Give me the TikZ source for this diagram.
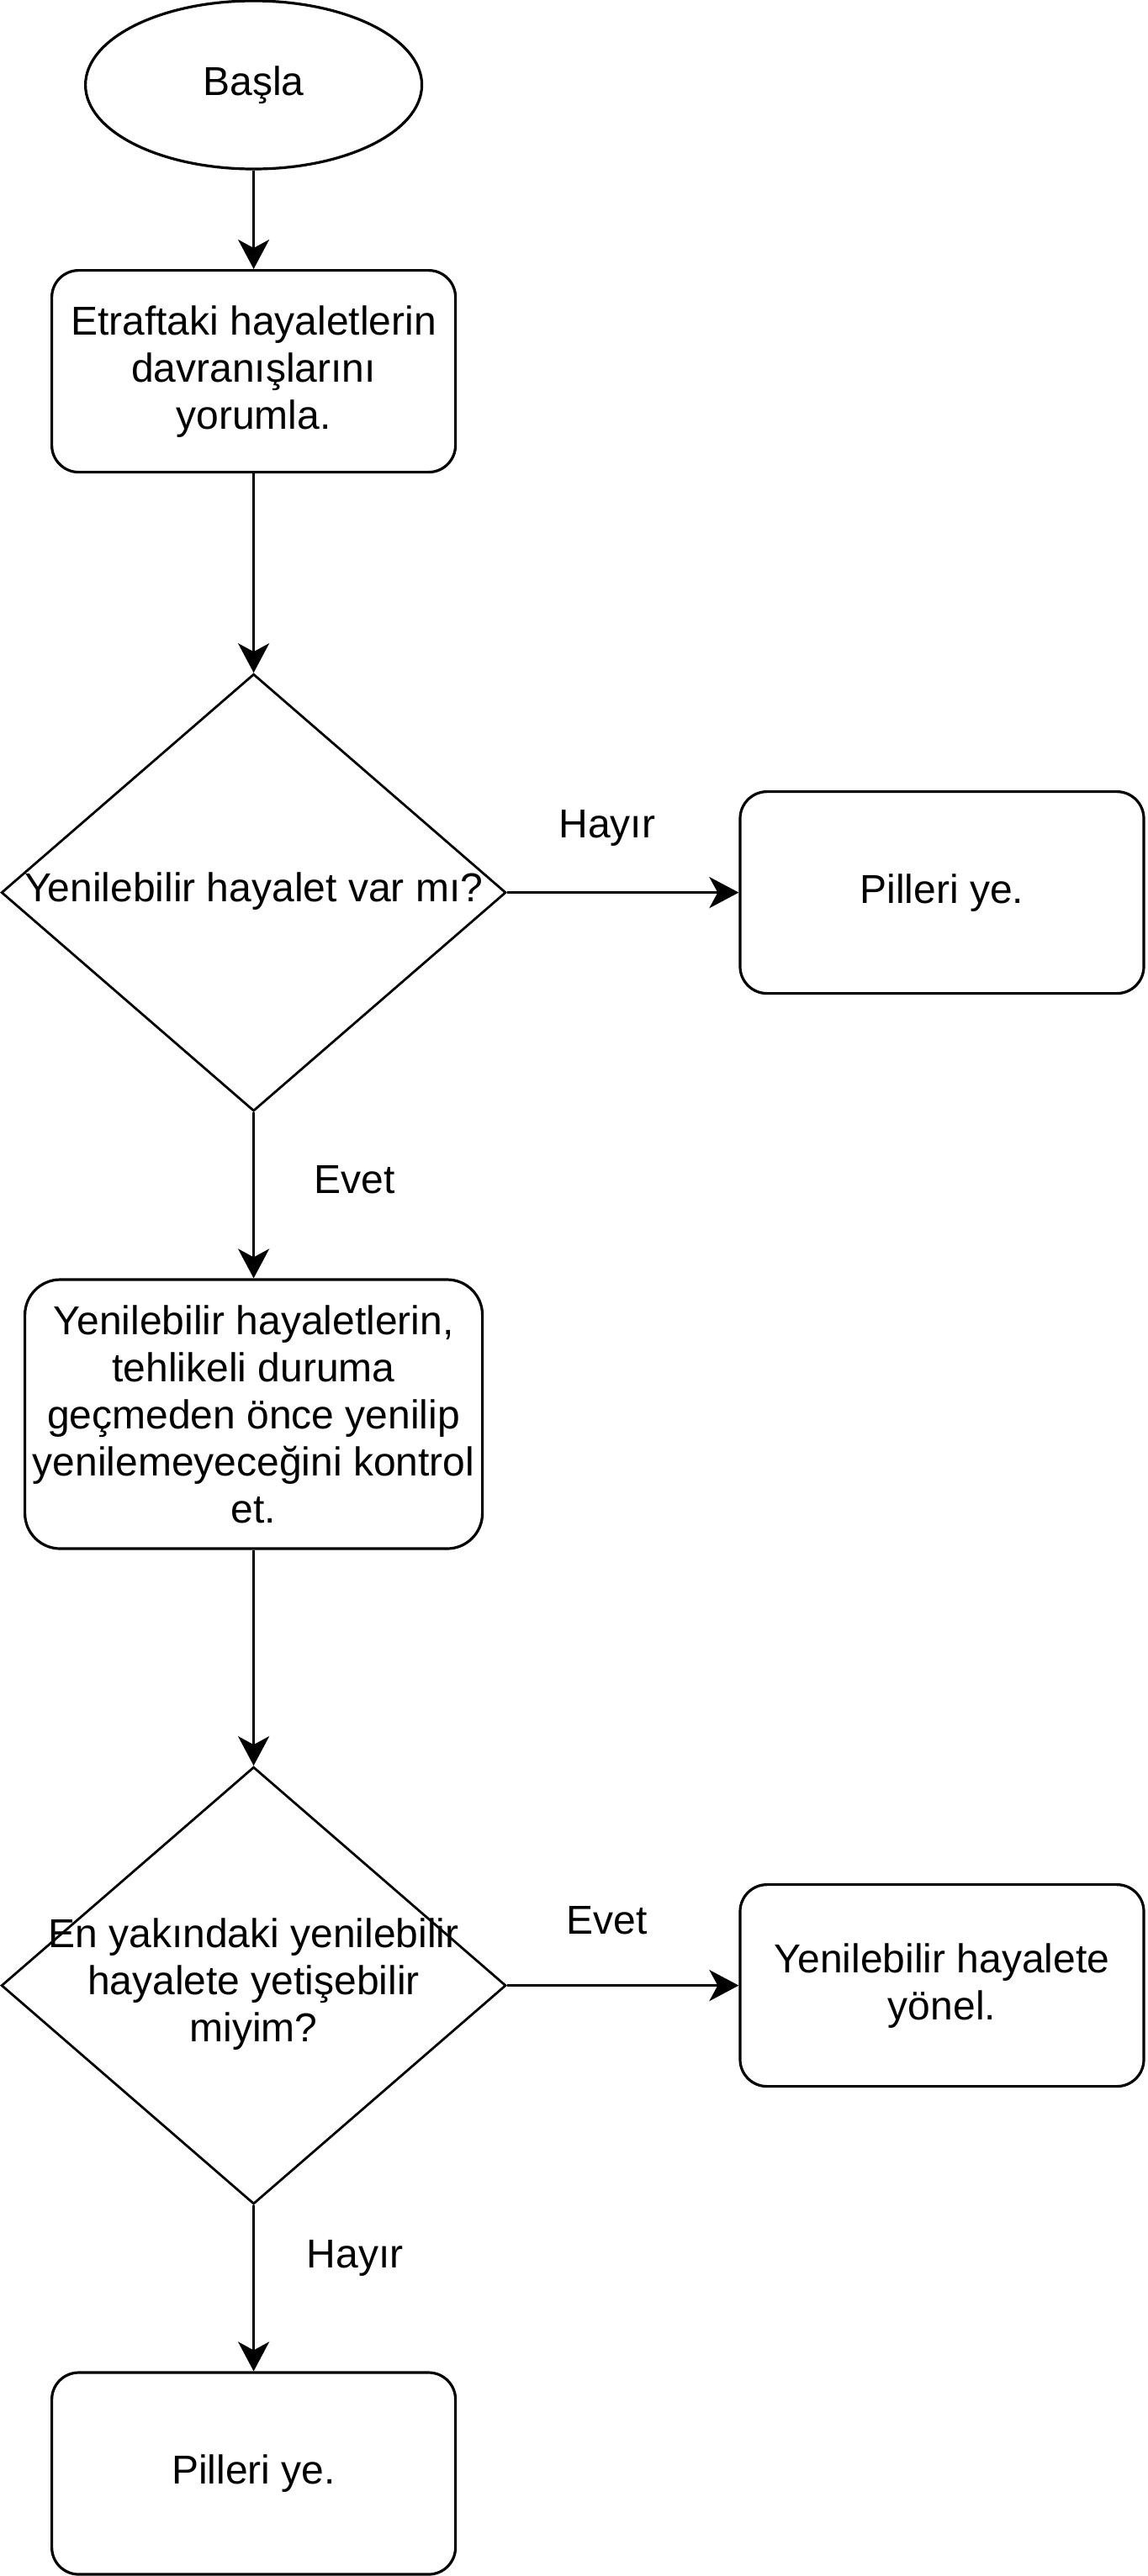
\documentclass[tikz,border=0pt]{standalone}
\usepackage{fontspec}
\setmainfont{Liberation Sans}
\usepackage{tikz}
\usetikzlibrary{arrows.meta,shapes.geometric}
\newcommand{\dlines}[1]{\makebox[0pt]{\begin{tabular}{@{}c@{}}#1\end{tabular}}}

\begin{document}
\begin{tikzpicture}[
    x=1pt, y=-1pt,
    every node/.style={font=\fontsize{12pt}{14pt}\selectfont},
    terminal/.style={ellipse, draw, line width=0.8pt, minimum width=100pt, minimum height=50pt, inner sep=0},
    proc/.style={rectangle, draw, line width=0.8pt, rounded corners=8pt, minimum width=120pt, minimum height=60pt, align=center, inner sep=0},
    decide/.style={diamond, draw, line width=0.7pt, minimum width=150pt, minimum height=130pt, inner sep=0},
    flow/.style={draw, line width=0.8pt, -{Stealth[length=8.75pt, width=9.25pt, inset=2.5pt]}},
    lbl/.style={inner sep=0}]
\useasboundingbox (0,0) rectangle (341,766);

\node[terminal] (start) at (75.4,25.25) {Başla};
\node[proc] (look) at (75.4,110.4) {Etraftaki hayaletlerin\\davranışlarını\\yorumla.};
\node[decide] (any) at (75.4,265.4) {\dlines{Yenilebilir hayalet var mı?}};
\node[proc] (eat1) at (280,265.4) {Pilleri ye.};
\node[proc, minimum width=136pt, minimum height=80pt, rounded corners=10.5pt] (check) at (75.4,420.5) {Yenilebilir hayaletlerin,\\tehlikeli duruma\\geçmeden önce yenilip\\yenilemeyeceğini kontrol\\et.};
\node[decide] (reach) at (75.4,590.4) {\dlines{En yakındaki yenilebilir\\hayalete yetişebilir\\miyim?}};
\node[proc] (chase) at (280,590.4) {Yenilebilir hayalete\\yönel.};
\node[proc] (eat2) at (75.4,735.5) {Pilleri ye.};

\draw[flow] (start) -- (look);
\draw[flow] (look) -- (any);
\draw[flow] (any) -- node[lbl, xshift=-4.7pt, yshift=19.25pt] {Hayır} (eat1);
\draw[flow] (any) -- node[lbl, xshift=30.1pt, yshift=4.7pt] {Evet} (check);
\draw[flow] (check) -- (reach);
\draw[flow] (reach) -- node[lbl, xshift=-4.7pt, yshift=19.4pt] {Evet} (chase);
\draw[flow] (reach) -- node[lbl, xshift=30.1pt, yshift=8.95pt] {Hayır} (eat2);

\end{tikzpicture}
\end{document}
